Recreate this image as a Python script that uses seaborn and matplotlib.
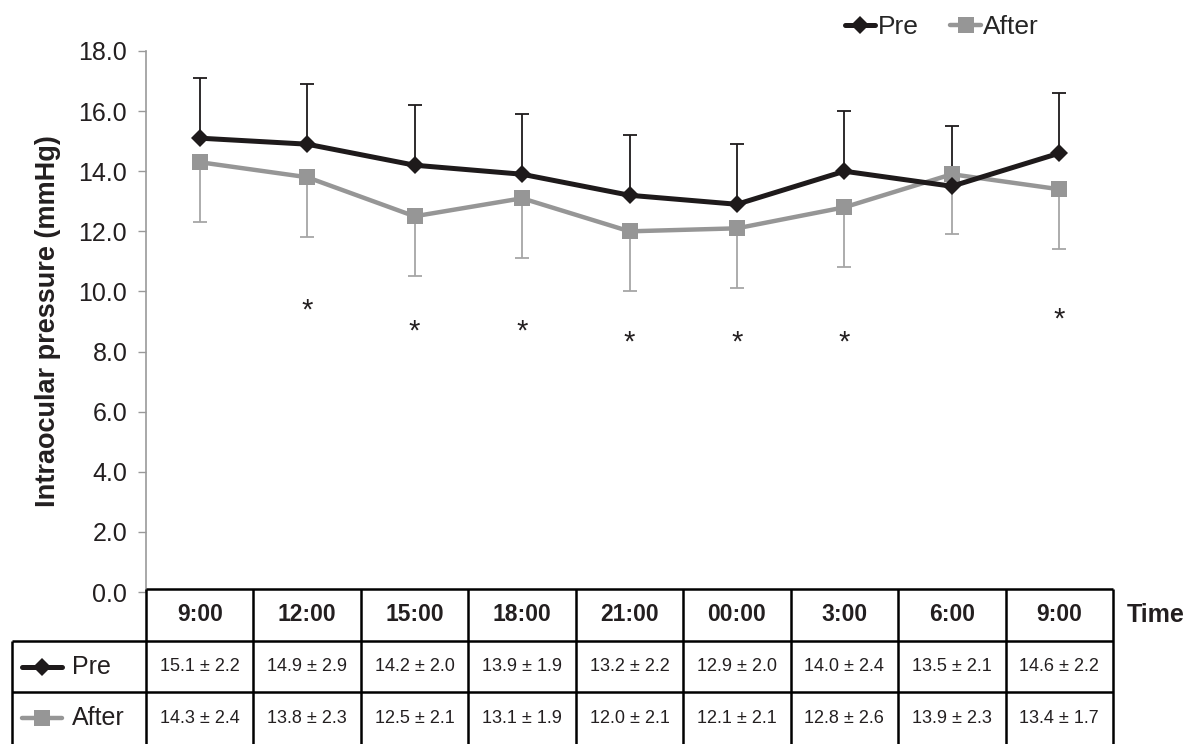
import matplotlib
matplotlib.use("Agg")
import matplotlib.pyplot as plt
import seaborn as sns
import numpy as np
import pandas as pd

# data
times = ["9:00", "12:00", "15:00", "18:00", "21:00", "00:00", "3:00", "6:00", "9:00"]
pre_mean = [15.1, 14.9, 14.2, 13.9, 13.2, 12.9, 14.0, 13.5, 14.6]
pre_sd = [2.2, 2.9, 2.0, 1.9, 2.2, 2.0, 2.4, 2.1, 2.2]
after_mean = [14.3, 13.8, 12.5, 13.1, 12.0, 12.1, 12.8, 13.9, 13.4]
after_sd = [2.4, 2.3, 2.1, 1.9, 2.1, 2.1, 2.6, 2.3, 1.7]
# error bars as drawn in the figure (fixed length)
bar_len = [2.0, 2.0, 2.0, 2.0, 2.0, 2.0, 2.0, 2.0, 2.0]
# significance marks and their heights
star_mark = ["", "*", "*", "*", "*", "*", "*", "", "*"]
star_y = [np.nan, 9.35, 8.65, 8.65, 8.3, 8.3, 8.3, np.nan, 9.05]

pre_col = "#1e1a1b"
after_col = "#969696"
after_err_col = "#a6a6a6"

sns.set_style("white")
plt.rcParams["font.family"] = ["Liberation Sans", "DejaVu Sans"]

W, H = 1186, 744
fig = plt.figure(figsize=(W / 100, H / 100), dpi=100)
ax = fig.add_axes([146 / W, 1 - 592 / H, 967 / W, (592 - 51) / H])

df = pd.DataFrame({"x": range(len(times)), "pre": pre_mean, "after": after_mean})

# one-sided error bars: up for Pre, down for After
zeros = np.zeros(len(times))
ax.errorbar(df["x"], df["pre"], yerr=[zeros, bar_len], fmt="none",
            ecolor=pre_col, elinewidth=1.3, capsize=5, capthick=1.3, zorder=1)
ax.errorbar(df["x"], df["after"], yerr=[bar_len, zeros], fmt="none",
            ecolor=after_err_col, elinewidth=1.3, capsize=5, capthick=1.3, zorder=1)

sns.lineplot(data=df, x="x", y="after", color=after_col, linewidth=3.2,
             marker="s", markersize=11, markeredgewidth=0, label="After", ax=ax, zorder=3)
sns.lineplot(data=df, x="x", y="pre", color=pre_col, linewidth=3.6,
             marker="D", markersize=9, markeredgewidth=0, label="Pre", ax=ax, zorder=4)

for i, (m, yy) in enumerate(zip(star_mark, star_y)):
    if m:
        ax.text(i, yy, m, ha="center", va="center", fontsize=21, color="#231f20")

ax.set_xlim(-0.5, len(times) - 0.5)
ax.set_ylim(0, 18)
ax.set_yticks(np.arange(0, 18.1, 2))
ax.set_yticklabels([f"{v:.1f}" for v in np.arange(0, 18.1, 2)])
ax.set_xticks([])
ax.set_xlabel("")
ax.set_ylabel("Intraocular pressure (mmHg)", fontsize=19.5, fontweight="bold", color="#231f20")
ax.yaxis.set_label_coords(-0.088, 0.5)
ax.tick_params(axis="y", labelsize=18, colors="#231f20", length=6, width=1, color="#999999",
               direction="out", left=True, pad=7.5)
for s in ["top", "right", "bottom"]:
    ax.spines[s].set_visible(False)
ax.spines["left"].set_color("#999999")
ax.spines["left"].set_linewidth(1.2)

# legend at the top right
handles, labels = ax.get_legend_handles_labels()
order = [labels.index("Pre"), labels.index("After")]
ax.get_legend().remove()
fig.legend([handles[k] for k in order], [labels[k] for k in order], loc="center",
           bbox_to_anchor=(942 / W, 1 - 27 / H), ncol=2, frameon=False, fontsize=19,
           handlelength=1.15, handletextpad=0.1, columnspacing=1.2, borderpad=0)

# data table under the plot
tax = fig.add_axes([146 / W, 0, 967 / W, (744 - 589) / H])
tax.set_xlim(0, len(times))
tax.set_ylim(3, 0)
tax.axis("off")
lab_w = 1.25
lw = 1.8
tax.hlines(0, 0, len(times), color="black", lw=lw, clip_on=False)
tax.hlines([1, 2], -lab_w, len(times), color="black", lw=lw, clip_on=False)
tax.vlines(range(len(times) + 1), 0, 3, color="black", lw=lw, clip_on=False)
tax.vlines(-lab_w, 1, 3, color="black", lw=lw, clip_on=False)

for i, t in enumerate(times):
    tax.text(i + 0.5, 0.5, t, ha="center", va="center", fontsize=16.5, fontweight="bold", color="#231f20")
    tax.text(i + 0.5, 1.5, f"{pre_mean[i]:.1f} ± {pre_sd[i]:.1f}", ha="center", va="center",
             fontsize=13, color="#231f20")
    tax.text(i + 0.5, 2.5, f"{after_mean[i]:.1f} ± {after_sd[i]:.1f}", ha="center", va="center",
             fontsize=13, color="#231f20")
tax.text(len(times) + 0.13, 0.5, "Time", ha="left", va="center", fontsize=18,
         fontweight="bold", color="#231f20", clip_on=False)

# row labels with their line keys
for row, name, col, mk, ms, lwid in [(1.5, "Pre", pre_col, "D", 9, 3.6),
                                     (2.5, "After", after_col, "s", 11, 3.2)]:
    tax.plot([-1.155, -0.78], [row, row], color=col, lw=lwid, clip_on=False)
    tax.plot([-0.967], [row], color=col, marker=mk, markersize=ms, markeredgewidth=0, clip_on=False)
    tax.text(-0.69, row, name, ha="left", va="center", fontsize=18, color="#231f20", clip_on=False)

fig.savefig("out.png", dpi=100)
